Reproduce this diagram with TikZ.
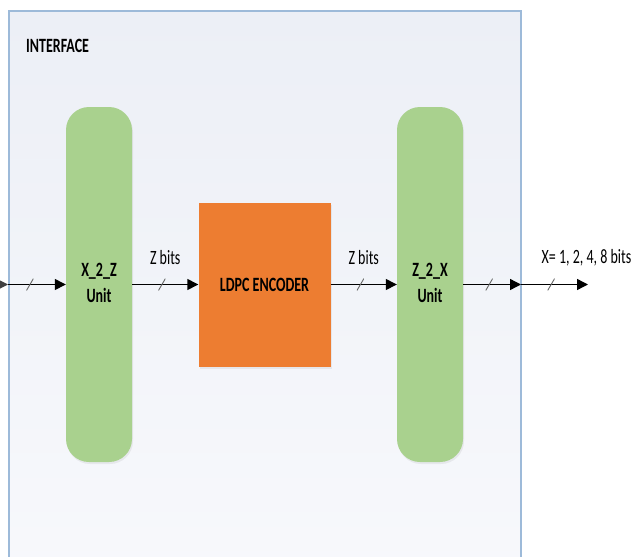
\documentclass[tikz,border=0pt]{standalone}
\usepackage{fontspec}
\setmainfont{Carlito}
\usepackage{graphicx}
\usetikzlibrary{arrows.meta,shadows}
\definecolor{frametop}{HTML}{ECEFF6}
\definecolor{framebot}{HTML}{F8F9FC}
\definecolor{frameline}{HTML}{9DBAD9}
\definecolor{unitgreen}{HTML}{A9D18E}
\definecolor{encorange}{HTML}{ED7D31}
\newcommand{\vstretch}[1]{\scalebox{1}[1.45]{#1}}
\tikzset{
  unit/.style={fill=unitgreen, rounded corners=23pt, minimum width=66pt, minimum height=355pt,
    inner sep=0pt, font=\bfseries\fontsize{14}{18}\selectfont,
    drop shadow={opacity=0.12, shadow xshift=1pt, shadow yshift=-2pt}},
  encoder/.style={fill=encorange, minimum width=132pt, minimum height=164pt, inner sep=0pt,
    font=\bfseries\fontsize{14}{17}\selectfont,
    drop shadow={opacity=0.12, shadow xshift=1pt, shadow yshift=-2pt}},
  bus/.style={line width=1.4pt, -{Triangle[length=11pt,width=11pt]}},
  busmark/.style={inner sep=0pt, minimum width=7pt, minimum height=12pt, pos=0.45,
    path picture={\draw[-, black!60, line width=0.9pt] (path picture bounding box.south west) -- (path picture bounding box.north east);}},
  lbl/.style={font=\fontsize{14}{17}\selectfont, inner sep=0pt, yshift=27pt}
}
\begin{document}
\begin{tikzpicture}[x=1pt,y=-1pt]
\useasboundingbox (0,0) rectangle (633,557);
\fill[white] (0,0) rectangle (633,557);
\begin{scope}
  \clip (0,0) rectangle (633,557);
  \draw[frameline, line width=1.5pt, top color=frametop, bottom color=framebot] (9,11) rectangle (521,600);
\end{scope}
\node[anchor=west, inner sep=0pt, font=\bfseries\fontsize{14}{17}\selectfont] (title) at (26,46) {\vstretch{INTERFACE}};

\node[unit] (x2z) at (99,284.5) {\vstretch{\begin{tabular}{@{}c@{}}X\_2\_Z\\Unit\end{tabular}}};
\node[unit] (z2x) at (430,284.5) {\vstretch{\begin{tabular}{@{}c@{}}Z\_2\_X\\Unit\end{tabular}}};
\node[encoder] (enc) at (264.5,284.5) {\vstretch{LDPC ENCODER}};

\coordinate (ext) at (-20,284.5);
\coordinate (inport) at (8,284.5);
\coordinate (outport) at (521,284.5);
\coordinate (sink) at (588,284.5);

\draw[bus, black!75] (ext) -- (inport);
\draw[bus] (inport) -- node[busmark, pos=0.38]{} (x2z);
\draw[bus] (x2z) -- node[busmark]{} node[lbl, midway]{\vstretch{Z bits}} (enc);
\draw[bus] (enc) -- node[busmark]{} node[lbl, midway]{\vstretch{Z bits}} (z2x);
\draw[bus] (z2x) -- node[busmark]{} (outport);
\draw[bus] (outport) -- node[busmark]{} node[lbl, midway, xshift=32pt]{\vstretch{X= 1, 2, 4, 8 bits}} (sink);
\end{tikzpicture}
\end{document}
